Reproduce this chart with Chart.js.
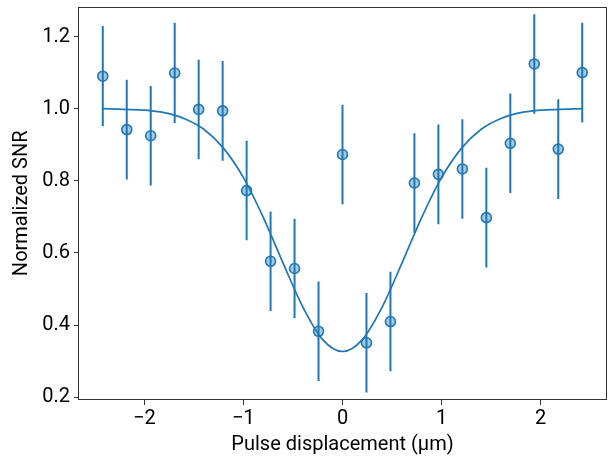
<!DOCTYPE html>
<html>
<head>
<meta charset="utf-8">
<script src="https://cdn.jsdelivr.net/npm/chart.js@4"></script>
<style>
  html, body { margin: 0; padding: 0; background: #fff; }
  #wrap { width: 613px; height: 457px; }
</style>
</head>
<body>
<div id="wrap"><canvas id="snrChart" width="613" height="457"></canvas></div>
<script>
// Measured points (displacement in um, normalized SNR, error)
const displacement = [-2.42, -2.178, -1.936, -1.694, -1.452, -1.21, -0.968, -0.726, -0.484, -0.242,
    0, 0.242, 0.484, 0.726, 0.968, 1.21, 1.452, 1.694, 1.936, 2.178, 2.42];
const snr = [1.09, 0.942, 0.925, 1.099, 0.998, 0.994, 0.773, 0.577, 0.557, 0.383,
    0.873, 0.351, 0.41, 0.794, 0.818, 0.833, 0.698, 0.904, 1.124, 0.888, 1.1];
const snrErr = [0.139, 0.138, 0.138, 0.139, 0.138, 0.138, 0.138, 0.138, 0.138, 0.138,
    0.138, 0.138, 0.138, 0.138, 0.138, 0.138, 0.138, 0.138, 0.138, 0.138, 0.138];

// Fitted dip curve
const fitX = [-2.42, -2.2, -2.0, -1.8, -1.6, -1.4, -1.2, -1.0, -0.8, -0.6, -0.4, -0.2, 0,
    0.2, 0.4, 0.6, 0.8, 1.0, 1.2, 1.4, 1.6, 1.8, 2.0, 2.2, 2.42];
const fitY = [1.0, 0.998, 0.996, 0.989, 0.973, 0.943, 0.890, 0.809, 0.699, 0.572, 0.450, 0.360, 0.327,
    0.360, 0.450, 0.572, 0.699, 0.809, 0.890, 0.943, 0.973, 0.989, 0.996, 0.998, 1.0];

// Axis ticks
const xTicks = [-2, -1, 0, 1, 2];
const yTicks = [0.2, 0.4, 0.6, 0.8, 1.0, 1.2];

const blue = '#1f77b4';
const font = { family: 'Roboto', size: 20 };

// vertical error segments, separated by gaps
const errSegments = [];
displacement.forEach((x, i) => {
    errSegments.push({ x: x, y: snr[i] - snrErr[i] });
    errSegments.push({ x: x, y: snr[i] + snrErr[i] });
    errSegments.push({ x: x, y: null });
});

// box around the plot area
const frame = {
    id: 'frame',
    afterDraw(chart) {
        const a = chart.chartArea;
        const ctx = chart.ctx;
        ctx.save();
        ctx.strokeStyle = '#333';
        ctx.lineWidth = 1;
        ctx.strokeRect(Math.round(a.left) - 0.5, Math.round(a.top) + 0.5,
            Math.round(a.right - a.left) + 1, Math.round(a.bottom - a.top) - 1);
        ctx.restore();
    }
};

const minus = v => (v < 0 ? '\u2212' + Math.abs(v) : String(v));

new Chart(document.getElementById('snrChart'), {
    type: 'line',
    data: {
        datasets: [
            {
                label: 'data',
                data: displacement.map((x, i) => ({ x: x, y: snr[i] })),
                showLine: false,
                pointRadius: 5,
                pointBorderWidth: 1.6,
                pointBackgroundColor: 'rgba(31,119,180,0.4)',
                pointBorderColor: blue,
                order: 0
            },
            {
                label: 'fit',
                data: fitX.map((x, i) => ({ x: x, y: fitY[i] })),
                borderColor: blue,
                borderWidth: 1.7,
                pointRadius: 0,
                cubicInterpolationMode: 'monotone',
                order: 1
            },
            {
                label: 'err',
                data: errSegments,
                borderColor: blue,
                borderWidth: 2,
                pointRadius: 0,
                spanGaps: false,
                order: 2
            }
        ]
    },
    options: {
        responsive: false,
        animation: false,
        layout: { padding: { top: 5, right: 7, left: 0, bottom: 0 } },
        plugins: { legend: { display: false }, tooltip: { enabled: false } },
        scales: {
            x: {
                type: 'linear',
                min: -2.66,
                max: 2.66,
                afterBuildTicks: s => { s.ticks = xTicks.map(v => ({ value: v })); },
                afterFit: s => { s.height = 57; },
                grid: { drawOnChartArea: false, drawTicks: true, tickLength: 5, tickColor: '#333', color: '#333' },
                border: { display: false },
                ticks: { color: '#000', font: font, padding: 2, maxRotation: 0, callback: v => minus(v) },
                title: { display: true, text: 'Pulse displacement (\u03bcm)', color: '#000', font: font, padding: { top: 0, bottom: 0 } }
            },
            y: {
                min: 0.1925,
                max: 1.283,
                afterBuildTicks: s => { s.ticks = yTicks.map(v => ({ value: v })); },
                afterFit: s => { s.width = 79; s.paddingTop = 0; s.paddingBottom = 0; },
                grid: { drawOnChartArea: false, drawTicks: true, tickLength: 5, tickColor: '#333', color: '#333' },
                border: { display: false },
                ticks: { color: '#000', font: font, padding: 4, callback: v => v.toFixed(1) },
                title: { display: true, text: 'Normalized SNR', color: '#000', font: font, padding: { top: 10, bottom: 0 } }
            }
        }
    },
    plugins: [frame]
});
</script>
</body>
</html>
